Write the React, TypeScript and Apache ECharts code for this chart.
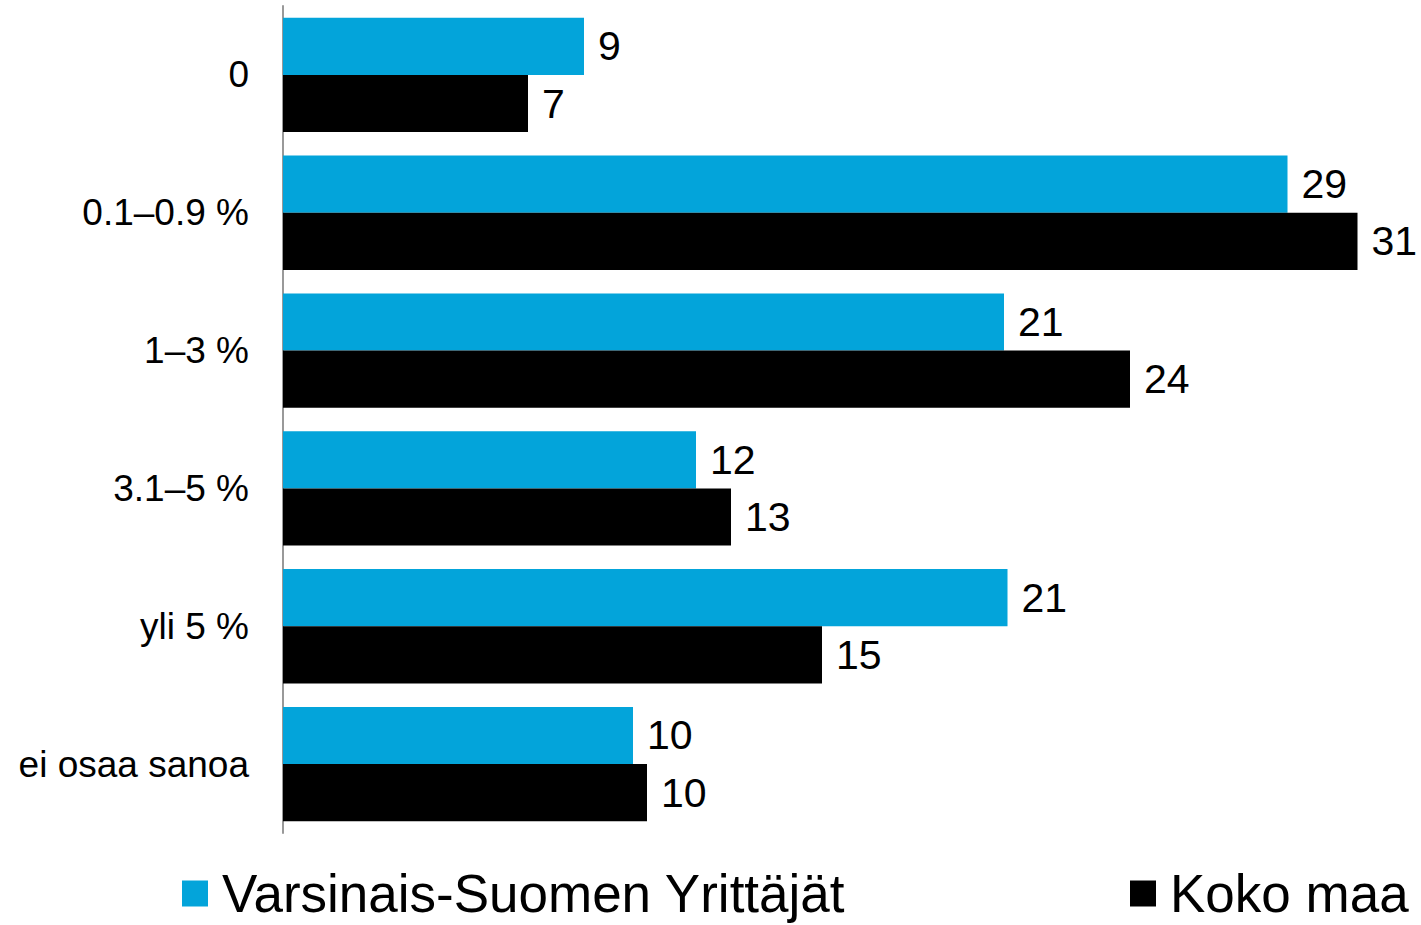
import React, { useEffect, useRef } from "react";
import * as echarts from "echarts";

const categories = ["0", "0.1–0.9 %", "1–3 %", "3.1–5 %", "yli 5 %", "ei osaa sanoa"];
const seriesNames = ["Varsinais-Suomen Yrittäjät", "Koko maa"];
const varsinaisValues = [8.6, 28.7, 20.6, 11.8, 20.7, 10.0];
const kokoMaaValues = [7.0, 30.7, 24.2, 12.8, 15.4, 10.4];

const FONT = "'Liberation Sans', Arial, sans-serif";

export default function App() {
  const ref = useRef<HTMLDivElement>(null);
  useEffect(() => {
    if (!ref.current) return;
    const chart = echarts.init(ref.current, null, { renderer: "svg" });
    const label = {
      show: true,
      position: "right",
      distance: 14,
      color: "#000",
      fontSize: 41,
      fontFamily: FONT,
      formatter: (p: any) => String(Math.round(p.value)),
    };
    const legendText = {
      fontSize: 53,
      lineHeight: 53,
      color: "#000",
      fontFamily: FONT,
      padding: [0, 0, 0, 9],
    };
    chart.setOption({
      animation: false,
      backgroundColor: "#fff",
      textStyle: { fontFamily: FONT },
      grid: { left: 283, top: 6, bottom: 92, right: 18, containLabel: false },
      legend: [
        {
          data: [seriesNames[0]],
          left: 182,
          top: 867,
          padding: 0,
          itemWidth: 26,
          itemHeight: 26,
          icon: "rect",
          textStyle: legendText,
        },
        {
          data: [seriesNames[1]],
          left: 1130,
          top: 867,
          padding: 0,
          itemWidth: 26,
          itemHeight: 26,
          icon: "rect",
          textStyle: legendText,
        },
      ],
      xAxis: {
        type: "value",
        min: 0,
        max: 32,
        show: false,
        splitLine: { show: false },
      },
      yAxis: {
        type: "category",
        data: categories,
        inverse: true,
        axisLine: { show: true, lineStyle: { color: "#999", width: 2 } },
        axisTick: { show: false },
        axisLabel: { fontSize: 37, color: "#000", margin: 34, fontFamily: FONT },
      },
      series: [
        {
          name: seriesNames[0],
          type: "bar",
          data: varsinaisValues,
          itemStyle: { color: "#03A4DA" },
          barGap: "0%",
          barCategoryGap: "17%",
          label,
        },
        {
          name: seriesNames[1],
          type: "bar",
          data: kokoMaaValues,
          itemStyle: { color: "#000" },
          barGap: "0%",
          barCategoryGap: "17%",
          label,
        },
      ],
    });
    return () => chart.dispose();
  }, []);
  return (
    <div
      ref={ref}
      style={{ position: "absolute", left: 0, top: 0, width: 1421, height: 925, background: "#fff" }}
    />
  );
}
